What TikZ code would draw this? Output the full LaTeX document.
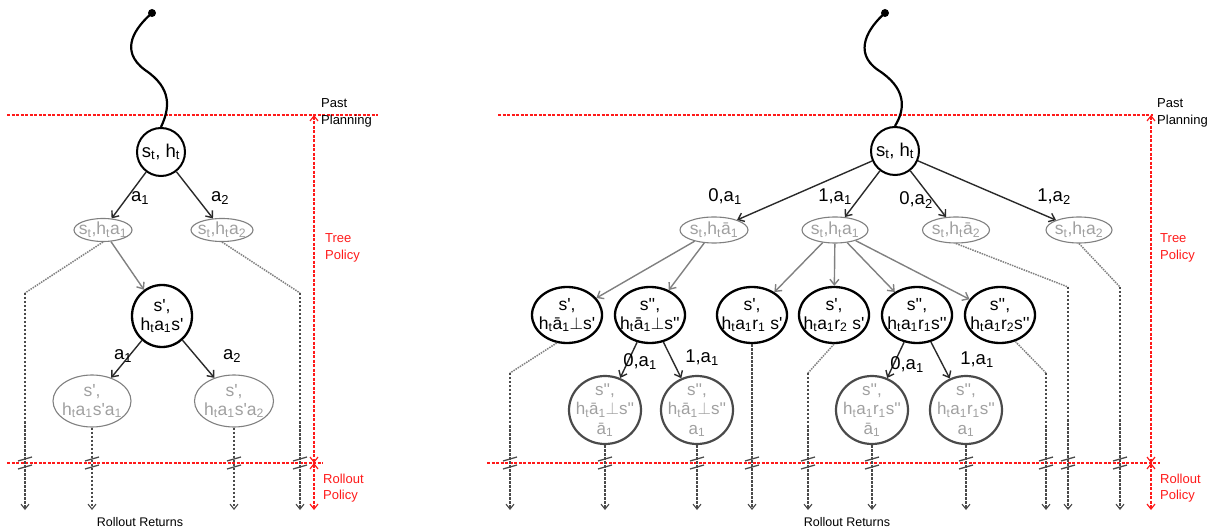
\documentclass[tikz,border=0pt]{standalone}
\usepackage{fontspec}
\setmainfont{Liberation Sans}[Ligatures=TeXOff]
\usetikzlibrary{shapes.geometric,arrows.meta}
\newcommand{\su}[1]{\textsubscript{#1}}
\newcommand{\ab}{\={a}}
\newcommand{\bt}{$\perp$}
\definecolor{dk}{HTML}{2A2A2A}
\definecolor{gy}{HTML}{A0A0A0}
\definecolor{mg}{HTML}{4A4A4A}
\definecolor{rd}{HTML}{FF1A1A}
\tikzset{
  rootnode/.style={circle, draw=black, line width=2pt, minimum size=48pt, inner sep=0pt, font=\fontsize{18.5}{20}\selectfont},
  gell/.style={ellipse, draw=gray, line width=1.1pt, text=gy, inner xsep=-4pt, inner ysep=-3pt, align=center, font=\fontsize{17.5}{19}\selectfont},
  bstate/.style={ellipse, draw=black, line width=2.3pt, inner xsep=-9pt, inner ysep=-6pt, align=center, font=\fontsize{17.5}{19}\selectfont},
  gstate/.style={ellipse, draw=mg, line width=2.2pt, text=gy, inner xsep=-9pt, inner ysep=-8pt, align=center, font=\fontsize{17}{19.5}\selectfont},
  act/.style={draw=dk, line width=1.4pt, -{Straight Barb[length=5.5pt,width=9pt]}},
  gact/.style={draw=gray, line width=1.4pt, -{Straight Barb[length=5.5pt,width=9pt]}},
  roll/.style={draw=mg, line width=1.1pt, dash pattern=on 2.5pt off 1.5pt},
  rollarrow/.style={roll, -{Straight Barb[length=5pt,width=8pt]}},
  diagroll/.style={draw=gray, line width=1.5pt, dash pattern=on 1.5pt off 1pt},
  brk/.style={draw=mg, line width=1.3pt},
  reddash/.style={draw=rd, line width=1.2pt, dash pattern=on 3pt off 1.5pt},
  redarrow/.style={reddash, {Straight Barb[length=5pt,width=8pt]}-{Straight Barb[length=5pt,width=8pt]}},
  lab/.style={inner sep=0pt, font=\fontsize{18.5}{20}\selectfont},
  side/.style={inner sep=0pt, anchor=west, align=left, font=\fontsize{13}{16.5}\selectfont},
  redside/.style={side, text=rd},
  ret/.style={inner sep=0pt, font=\fontsize{12.5}{14}\selectfont},
}
\begin{document}
\begin{tikzpicture}[x=1pt,y=-1pt]
\useasboundingbox (0,0) rectangle (1211,529);

% ================= LEFT TREE =================
\draw[reddash] (7,115) -- (378,115);
\draw[reddash] (7,463) -- (323,463);
\draw[redarrow] (314,115) -- (314,463);
\draw[redarrow] (314,463) -- (314,510);
\node[side] (lpp) at (321,113) {Past\\Planning};
\node[redside] (ltp) at (325,248) {Tree\\Policy};
\node[redside] (lrp) at (323,488) {Rollout\\Policy};
\node[ret] (lrr) at (140,522) {Rollout Returns};

\node[rootnode] (R1) at (161,152) {s\su{t}, h\su{t}};
\fill (152,13) circle (4pt);
\coordinate (d1) at (152,13);
\draw[line width=2.2pt] (d1) .. controls (136,27) and (118,50) .. (145,70)
   .. controls (172,88) and (170,108) .. (R1.north);

\node[gell, minimum width=58pt, minimum height=23pt] (L1) at (103,230) {s\su{t},h\su{t}a\su{1}};
\node[gell, minimum width=62pt, minimum height=23pt] (L2) at (222,230) {s\su{t},h\su{t}a\su{2}};
\draw[act] (R1) -- (L1);
\draw[act] (R1) -- (L2);
\node[lab] (la1) at (140,198) {a\su{1}};
\node[lab] (la2) at (220,198) {a\su{2}};

\node[bstate, minimum width=60pt, minimum height=62pt] (S1) at (162,316) {s',\\h\su{t}a\su{1}s'};
\draw[gact] (L1) -- (S1);

\node[gell, minimum width=78pt, minimum height=52pt] (L3) at (92,401) {s',\\h\su{t}a\su{1}s'a\su{1}};
\node[gell, minimum width=79pt, minimum height=52pt] (L4) at (234,401) {s',\\h\su{t}a\su{1}s'a\su{2}};
\draw[act] (S1) -- (L3);
\draw[act] (S1) -- (L4);
\node[lab] (la3) at (123,356) {a\su{1}};
\node[lab] (la4) at (232,356) {a\su{2}};

\coordinate (bl1) at (25,293);
\coordinate (bl2) at (300,293);
\draw[diagroll] (L1.south) -- (bl1);
\draw[diagroll] (L2.south) -- (bl2);
\coordinate (ebot) at (0,510);
\draw[rollarrow] (bl1) -- (bl1 |- ebot);
\draw[rollarrow] (bl2) -- (bl2 |- ebot);
\draw[rollarrow] (L3.south) -- (L3.south |- ebot);
\draw[rollarrow] (L4.south) -- (L4.south |- ebot);
\foreach \x in {25,92,234,300}{
  \draw[brk] (\x-7,461) -- (\x+7,457);
  \draw[brk] (\x-7,469) -- (\x+7,465);
}

% ================= RIGHT TREE =================
\draw[reddash] (498,115) -- (1153,115);
\draw[reddash] (487,463) -- (1160,463);
\draw[redarrow] (1151,115) -- (1151,463);
\draw[redarrow] (1151,463) -- (1151,510);
\node[side] (rpp) at (1157,113) {Past\\Planning};
\node[redside] (rtp) at (1160,248) {Tree\\Policy};
\node[redside] (rrp) at (1160,488) {Rollout\\Policy};
\node[ret] (rrr) at (847,522) {Rollout Returns};

\node[rootnode] (R2) at (895,151) {s\su{t}, h\su{t}};
\fill (885,13) circle (4pt);
\coordinate (d2) at (885,13);
\draw[line width=2.2pt] (d2) .. controls (869,27) and (852,52) .. (878,70)
   .. controls (906,88) and (906,108) .. (R2.north);

\node[gell, minimum width=68pt, minimum height=26pt] (E1) at (714,230) {s\su{t},h\su{t}\ab\su{1}};
\node[gell, minimum width=66pt, minimum height=26pt] (E2) at (835,230) {s\su{t},h\su{t}a\su{1}};
\node[gell, minimum width=67pt, minimum height=26pt] (E3) at (956,230) {s\su{t},h\su{t}\ab\su{2}};
\node[gell, minimum width=66pt, minimum height=26pt] (E4) at (1079,230) {s\su{t},h\su{t}a\su{2}};
\draw[act] (R2) -- (E1);
\draw[act] (R2) -- (E2);
\draw[act] (R2) -- (E3);
\draw[act] (R2) -- (E4);
\node[lab] (l01) at (725,197) {0,a\su{1}};
\node[lab] (l11) at (835,197) {1,a\su{1}};
\node[lab] (l02) at (916,200) {0,a\su{2}};
\node[lab] (l12) at (1054,197) {1,a\su{2}};

\node[bstate, minimum width=70pt, minimum height=56pt] (C1) at (567,315) {s',\\h\su{t}\ab\su{1}\bt s'};
\node[bstate, minimum width=70pt, minimum height=56pt] (C2) at (650,315) {s'',\\h\su{t}\ab\su{1}\bt s''};
\node[bstate, minimum width=70pt, minimum height=56pt] (C3) at (752,315) {s',\\h\su{t}a\su{1}r\su{1} s'};
\node[bstate, minimum width=70pt, minimum height=56pt] (C4) at (834,315) {s',\\h\su{t}a\su{1}r\su{2} s'};
\node[bstate, minimum width=70pt, minimum height=56pt] (C5) at (917,315) {s'',\\h\su{t}a\su{1}r\su{1}s''};
\node[bstate, minimum width=70pt, minimum height=56pt] (C6) at (1000,315) {s'',\\h\su{t}a\su{1}r\su{2}s''};
\draw[gact] (E1) -- (C1);
\draw[gact] (E1) -- (C2);
\draw[gact] (E2) -- (C3);
\draw[gact] (E2) -- (C4);
\draw[gact] (E2) -- (C5);
\draw[gact] (E2) -- (C6);

\node[gstate, minimum width=72pt, minimum height=68pt] (D1) at (605,410) {s'',\\h\su{t}\ab\su{1}\bt s''\\\ab\su{1}};
\node[gstate, minimum width=72pt, minimum height=68pt] (D2) at (697,410) {s'',\\h\su{t}\ab\su{1}\bt s''\\a\su{1}};
\node[gstate, minimum width=72pt, minimum height=68pt] (D3) at (872,410) {s'',\\h\su{t}a\su{1}r\su{1}s''\\\ab\su{1}};
\node[gstate, minimum width=72pt, minimum height=68pt] (D4) at (966,410) {s'',\\h\su{t}a\su{1}r\su{1}s''\\a\su{1}};
\draw[act] (C2) -- (D1);
\draw[act] (C2) -- (D2);
\draw[act] (C5) -- (D3);
\draw[act] (C5) -- (D4);
\node[lab] (m01) at (640,362) {0,a\su{1}};
\node[lab] (m11) at (702,358) {1,a\su{1}};
\node[lab] (m02) at (907,365) {0,a\su{1}};
\node[lab] (m12) at (977,360) {1,a\su{1}};

\coordinate (br1) at (510,373);
\coordinate (br2) at (808,373);
\coordinate (br3) at (1046,373);
\coordinate (br4) at (1068,287);
\coordinate (br5) at (1120,287);
\draw[diagroll] (C1.250) -- (br1);
\draw[diagroll] (C4.south) -- (br2);
\draw[diagroll] (C6.300) -- (br3);
\draw[diagroll] (E3.south) -- (br4);
\draw[diagroll] (E4.south) -- (br5);
\foreach \n in {br1,br2,br3,br4,br5}{
  \draw[rollarrow] (\n) -- (\n |- ebot);
}
\foreach \n in {D1,D2,C3,D3,D4}{
  \draw[rollarrow] (\n.south) -- (\n.south |- ebot);
}
\foreach \x in {510,605,697,752,808,872,966,1046,1068,1120}{
  \draw[brk] (\x-7,461) -- (\x+7,457);
  \draw[brk] (\x-7,469) -- (\x+7,465);
}
\end{tikzpicture}
\end{document}
